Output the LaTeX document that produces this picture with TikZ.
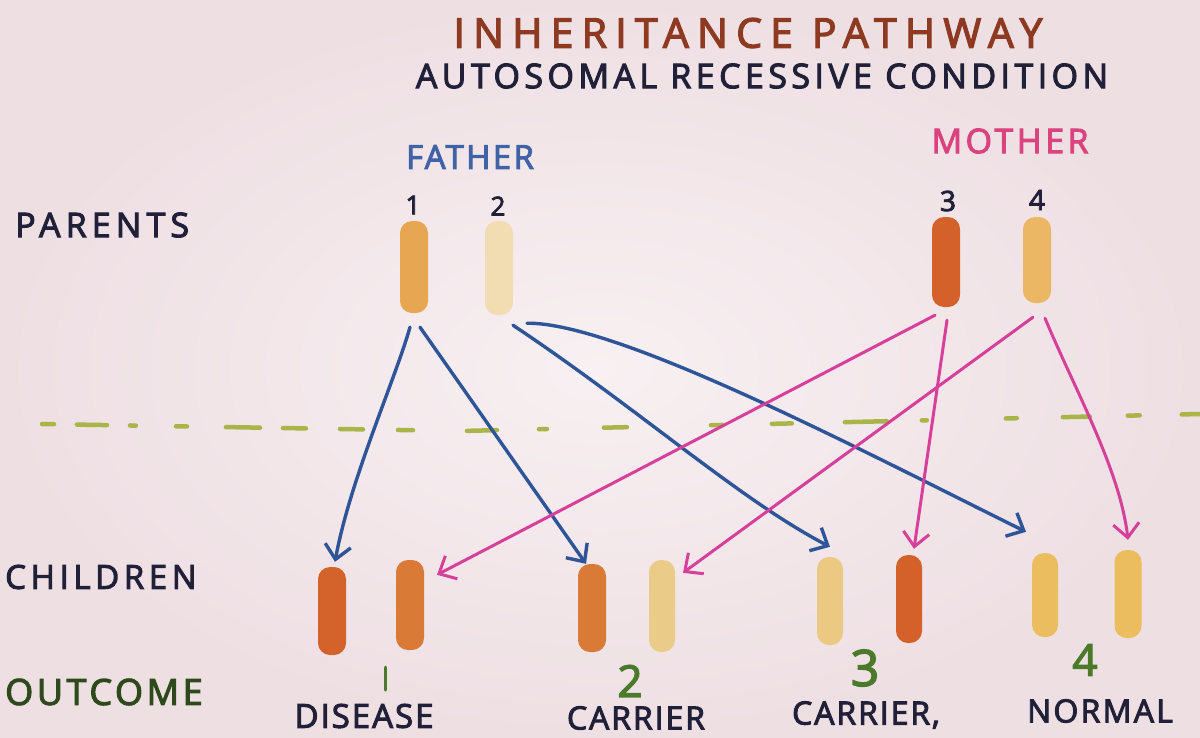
\documentclass[tikz,border=0pt]{standalone}
\usepackage{fontspec}
\setmainfont{Open Sans}
\newfontfamily\hand{Open Sans}[FakeBold=3]
\usetikzlibrary{arrows.meta,calc}
\definecolor{bgc}{HTML}{F8F0F2}
\definecolor{bgedge}{HTML}{EEDFE3}
\definecolor{titlebrown}{HTML}{8E3A22}
\definecolor{navy}{HTML}{202038}
\definecolor{fathercol}{HTML}{3F63A6}
\definecolor{mothercol}{HTML}{D9437F}
\definecolor{fblue}{HTML}{2E5597}
\definecolor{mpink}{HTML}{D6409A}
\definecolor{dashgreen}{HTML}{A9B548}
\definecolor{outgreen}{HTML}{2E4A1C}
\definecolor{numgreen}{HTML}{4A7A2A}
\definecolor{chA}{HTML}{E6A652}
\definecolor{chB}{HTML}{F2DDB3}
\definecolor{chC}{HTML}{D4612A}
\definecolor{chD}{HTML}{ECB764}
\definecolor{chE}{HTML}{D97A36}
\definecolor{chF}{HTML}{EBCB88}
\definecolor{chG}{HTML}{EBBD5E}
\begin{document}
\begin{tikzpicture}[x=1pt,y=-1pt,
  chromo/.style={rounded corners=12pt, minimum width=28pt, minimum height=90pt, inner sep=0pt},
  txt/.style={inner sep=0pt, text=navy},
  farrow/.style={draw=fblue, line width=3.4pt, line cap=round, line join=round, -{Straight Barb[length=14pt,width=26pt]}},
  marrow/.style={draw=mpink, line width=3pt, line cap=round, line join=round, -{Straight Barb[length=14pt,width=26pt]}}
]
\useasboundingbox (0,0) rectangle (1200,737);
\shade[inner color=bgc, outer color=bgedge] (0,0) rectangle (1200,737);

% titles
\node[txt, text=titlebrown] (title) at (748,33) {\hand\fontsize{41}{41}\selectfont\addfontfeatures{LetterSpace=20}INHERITANCE PATHWAY};
\node[txt] (subtitle) at (762,76) {\hand\fontsize{34}{34}\selectfont\addfontfeatures{LetterSpace=13}AUTOSOMAL RECESSIVE CONDITION};
\node[txt, text=fathercol] (father) at (470,157) {\hand\fontsize{33}{33}\selectfont\addfontfeatures{LetterSpace=7}FATHER};
\node[txt, text=mothercol] (mother) at (1010,141) {\hand\fontsize{34}{34}\selectfont\addfontfeatures{LetterSpace=10}MOTHER};
\node[txt, anchor=west] (parents) at (15,225) {\hand\fontsize{34}{34}\selectfont\addfontfeatures{LetterSpace=15}PARENTS};
\node[txt, anchor=west] (children) at (5,577) {\hand\fontsize{33}{33}\selectfont\addfontfeatures{LetterSpace=14}CHILDREN};
\node[txt, anchor=west, text=outgreen] (outcome) at (5,692) {\hand\fontsize{36}{36}\selectfont\addfontfeatures{LetterSpace=10}OUTCOME};

% parent numbers
\node[txt] (n1) at (413,205) {\hand\fontsize{26}{26}\selectfont 1};
\node[txt] (n2) at (498,206) {\hand\fontsize{26}{26}\selectfont 2};
\node[txt] (n3) at (948,201) {\hand\fontsize{28}{28}\selectfont 3};
\node[txt] (n4) at (1037,200) {\hand\fontsize{28}{28}\selectfont 4};

% parent chromosomes
\node[chromo, fill=chA, minimum height=92pt] (p1) at (414,267) {};
\node[chromo, fill=chB, minimum height=94pt] (p2) at (499,268) {};
\node[chromo, fill=chC, minimum height=90pt] (p3) at (946,262) {};
\node[chromo, fill=chD, minimum height=86pt] (p4) at (1037,260) {};

% children chromosomes
\node[chromo, fill=chC!90!chE, minimum height=88pt] (c1a) at (332,611) {};
\node[chromo, fill=chE, minimum height=90pt] (c1b) at (410,605) {};
\node[chromo, fill=chE, minimum height=88pt] (c2a) at (592,608) {};
\node[chromo, fill=chF, minimum width=26pt, minimum height=92pt] (c2b) at (662,606) {};
\node[chromo, fill=chF!85!chG, minimum width=26pt, minimum height=88pt] (c3a) at (830,601) {};
\node[chromo, fill=chC, minimum width=26pt, minimum height=88pt] (c3b) at (909,599) {};
\node[chromo, fill=chG, minimum width=26pt, minimum height=84pt] (c4a) at (1045,595) {};
\node[chromo, fill=chG, minimum width=27pt, minimum height=88pt] (c4b) at (1128,594) {};

% dashed separator
\draw[dashgreen, line width=4.5pt, line cap=round,
  dash pattern=on 12pt off 23pt on 30pt off 23pt on 6pt off 40pt on 11pt off 39pt on 34pt off 23pt on 23pt off 34pt on 23pt off 35pt on 15pt off 54pt on 30pt off 42pt on 8pt off 57pt on 23pt off 84pt on 12pt off 49pt on 20pt off 53pt on 42pt off 35pt on 5pt off 79pt on 11pt off 46pt on 27pt off 38pt on 12pt off 42pt on 30pt off 200pt]
  (42,424) -- (460,431) -- (1200,414);

% father arrows
\draw[farrow] ($(p1.south)+(-4,14)$) .. controls (395,380) and (350,480) .. ($(c1a.north)+(3,-5)$);
\draw[farrow] ($(p1.south)+(6,14)$) -- ($(c2a.north)+(-6,0)$);
\draw[farrow] ($(p2.south)+(14,10)$) .. controls (640,410) and (740,500) .. ($(c3a.north)+(0,-10)$);
\draw[farrow] ($(p2.south)+(28,8)$) .. controls (620,322) and (880,460) .. ($(c4a.north)+(-19,-21)$);

% mother arrows
\draw[marrow] ($(p3.south)+(-11,8)$) -- ($(c1b.north)+(27,15)$);
\draw[marrow] ($(p3.south)+(1,13)$) -- ($(c3b.north)+(5,-6)$);
\draw[marrow] ($(p4.south)+(-4,14)$) -- ($(c2b.north)+(21,13)$);
\draw[marrow] ($(p4.south)+(8,15)$) .. controls (1075,390) and (1120,470) .. ($(c4b.north)+(0,-10)$);

% outcomes
\draw[numgreen, line width=3pt, line cap=round] (385,667) -- (385,690);
\node[txt, text=numgreen] (o2) at (630,681) {\hand\fontsize{44}{44}\selectfont 2};
\node[txt, text=numgreen] (o3) at (865,668) {\hand\fontsize{50}{50}\selectfont 3};
\node[txt, text=numgreen] (o4) at (1085,660) {\hand\fontsize{44}{44}\selectfont 4};
\node[txt] (dis) at (364,716) {\hand\fontsize{33}{33}\selectfont\addfontfeatures{LetterSpace=6}DISEASE};
\node[txt] (car1) at (636,718) {\hand\fontsize{32}{32}\selectfont\addfontfeatures{LetterSpace=6}CARRIER};
\node[txt] (car2) at (866,715) {\hand\fontsize{32}{32}\selectfont\addfontfeatures{LetterSpace=6}CARRIER,};
\node[txt] (norm) at (1100,711) {\hand\fontsize{32}{32}\selectfont\addfontfeatures{LetterSpace=7}NORMAL};
\end{tikzpicture}
\end{document}
